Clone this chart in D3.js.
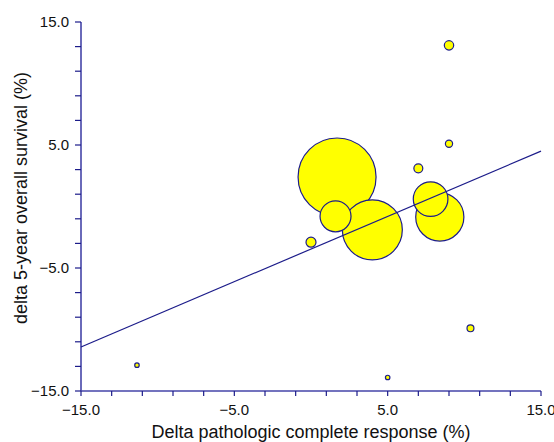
<!DOCTYPE html>
<html>
<head>
<meta charset="utf-8">
<script src="https://cdn.jsdelivr.net/npm/d3@7"></script>
<style>
  body { margin: 0; background: #fff; }
  text { font-family: "Liberation Sans", Arial, sans-serif; fill: #111; }
</style>
</head>
<body>
<svg id="chart" width="554" height="442"></svg>
<script>
// study-level deltas (%), bubble weight ~ study size
var studyX = [9.0, 9.0, 7.0, 1.7, 1.6, 4.0, 7.8, 8.4, 0.0, 10.4, -11.35, 5.0];
var studyY = [13.1, 5.1, 3.1, 2.4, -0.8, -1.9, 0.6, -0.85, -2.9, -9.9, -12.9, -13.9];
var studyW = [22, 13, 20, 1521, 240, 900, 300, 580, 25, 12, 5, 5];

var xTicks = [-15, -5, 5, 15];
var yTicks = [15, 5, -5, -15];
var fitLine = [[-15, -11.42], [15, 4.5]];

var AXIS_COLOR = '#4545a8';
var NAVY = '#1c1c8a';

var x = d3.scaleLinear().domain([-15, 15]).range([81, 541]);
var y = d3.scaleLinear().domain([-15, 15]).range([391, 22]);
var r = d3.scaleSqrt().domain([0, 1521]).range([0, 39]);

var svg = d3.select('#chart');
var fmt = function (d) { return d3.format('.1f')(d).replace('-', '\u2212'); };

// x axis, minor ticks every 2 units
var xAxis = svg.append('g').attr('transform', 'translate(0,391)');
xAxis.append('line')
  .attr('x1', x(-15)).attr('x2', x(15))
  .attr('stroke', AXIS_COLOR).attr('stroke-width', 1.6);
xAxis.selectAll('.tick')
  .data(d3.range(-15, 15.01, 2))
  .enter().append('line')
  .attr('x1', function (d) { return x(d); })
  .attr('x2', function (d) { return x(d); })
  .attr('y1', 0).attr('y2', 5)
  .attr('stroke', NAVY).attr('stroke-width', 1.2);
xAxis.selectAll('.lbl')
  .data(xTicks)
  .enter().append('text')
  .attr('x', function (d) { return x(d); })
  .attr('y', 24)
  .attr('text-anchor', 'middle')
  .style('font-size', '15px')
  .text(fmt);

// y axis
var yAxis = svg.append('g').attr('transform', 'translate(81,0)');
yAxis.append('line')
  .attr('y1', y(-15)).attr('y2', y(15))
  .attr('stroke', AXIS_COLOR).attr('stroke-width', 1.6);
yAxis.selectAll('.tick')
  .data(d3.range(-15, 15.01, 2))
  .enter().append('line')
  .attr('y1', function (d) { return y(d); })
  .attr('y2', function (d) { return y(d); })
  .attr('x1', -6).attr('x2', 0)
  .attr('stroke', NAVY).attr('stroke-width', 1.2);
yAxis.selectAll('.lbl')
  .data(yTicks)
  .enter().append('text')
  .attr('x', -12)
  .attr('y', function (d) { return y(d) + 5; })
  .attr('text-anchor', 'end')
  .style('font-size', '15px')
  .text(fmt);

// axis titles
svg.append('text')
  .attr('x', 311).attr('y', 438)
  .attr('text-anchor', 'middle')
  .style('font-size', '18px')
  .text('Delta pathologic complete response (%)');

svg.append('text')
  .attr('transform', 'translate(27,198) rotate(-90)')
  .attr('text-anchor', 'middle')
  .style('font-size', '18px')
  .text('delta 5-year overall survival (%)');

// bubbles, largest first so small ones stay on top
var pts = studyX.map(function (d, i) {
  return { x: d, y: studyY[i], w: studyW[i] };
}).sort(function (a, b) { return b.w - a.w; });

svg.selectAll('.bubble')
  .data(pts)
  .enter().append('circle')
  .attr('class', 'bubble')
  .attr('cx', function (d) { return x(d.x); })
  .attr('cy', function (d) { return y(d.y); })
  .attr('r', function (d) { return r(d.w); })
  .attr('fill', '#ffff00')
  .attr('stroke', NAVY)
  .attr('stroke-width', 1.2);

// meta-regression line
svg.append('path')
  .datum(fitLine)
  .attr('d', d3.line()
    .x(function (d) { return x(d[0]); })
    .y(function (d) { return y(d[1]); }))
  .attr('fill', 'none')
  .attr('stroke', NAVY)
  .attr('stroke-width', 1.2);
</script>
</body>
</html>
